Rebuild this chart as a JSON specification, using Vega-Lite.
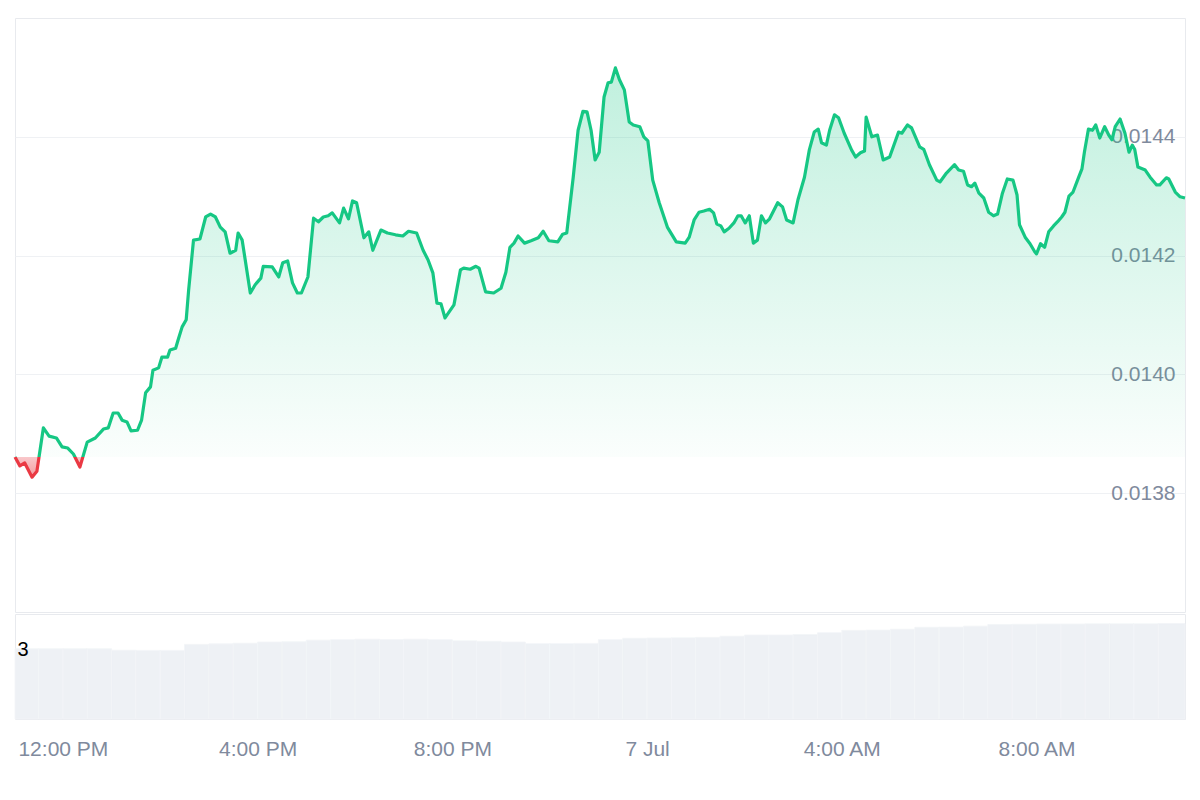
{
  "$schema": "https://vega.github.io/schema/vega-lite/v6.json",
  "padding": {"left": 12, "top": 17, "right": 0, "bottom": 0},
  "background": "white",
  "config": {
    "font": "Liberation Sans",
    "view": {"stroke": "#e8eaee"}
  },
  "spacing": 0,
  "datasets": {
    "price": [
      {"t":"2024-07-06T11:01","p":0.013861},{"t":"2024-07-06T11:07","p":0.013846},{"t":"2024-07-06T11:13","p":0.013851},{"t":"2024-07-06T11:22","p":0.013827},{"t":"2024-07-06T11:28","p":0.013837},{"t":"2024-07-06T11:36","p":0.013910},{"t":"2024-07-06T11:43","p":0.013896},{"t":"2024-07-06T11:52","p":0.013893},{"t":"2024-07-06T11:59","p":0.013878},{"t":"2024-07-06T12:06","p":0.013876},
      {"t":"2024-07-06T12:13","p":0.013866},{"t":"2024-07-06T12:21","p":0.013844},{"t":"2024-07-06T12:30","p":0.013886},{"t":"2024-07-06T12:40","p":0.013893},{"t":"2024-07-06T12:50","p":0.013908},{"t":"2024-07-06T12:56","p":0.013910},{"t":"2024-07-06T13:02","p":0.013935},{"t":"2024-07-06T13:08","p":0.013935},{"t":"2024-07-06T13:13","p":0.013923},{"t":"2024-07-06T13:19","p":0.013920},
      {"t":"2024-07-06T13:24","p":0.013905},{"t":"2024-07-06T13:32","p":0.013906},{"t":"2024-07-06T13:37","p":0.013923},{"t":"2024-07-06T13:42","p":0.013969},{"t":"2024-07-06T13:48","p":0.013979},{"t":"2024-07-06T13:51","p":0.014007},{"t":"2024-07-06T13:58","p":0.014011},{"t":"2024-07-06T14:02","p":0.014029},{"t":"2024-07-06T14:09","p":0.014029},{"t":"2024-07-06T14:12","p":0.014041},
      {"t":"2024-07-06T14:19","p":0.014044},{"t":"2024-07-06T14:22","p":0.014058},{"t":"2024-07-06T14:27","p":0.014080},{"t":"2024-07-06T14:32","p":0.014092},{"t":"2024-07-06T14:35","p":0.014142},{"t":"2024-07-06T14:41","p":0.014226},{"t":"2024-07-06T14:49","p":0.014228},{"t":"2024-07-06T14:56","p":0.014265},{"t":"2024-07-06T15:02","p":0.014270},{"t":"2024-07-06T15:08","p":0.014265},
      {"t":"2024-07-06T15:14","p":0.014248},{"t":"2024-07-06T15:20","p":0.014240},{"t":"2024-07-06T15:26","p":0.014204},{"t":"2024-07-06T15:33","p":0.014209},{"t":"2024-07-06T15:36","p":0.014238},{"t":"2024-07-06T15:41","p":0.014226},{"t":"2024-07-06T15:51","p":0.014137},{"t":"2024-07-06T15:57","p":0.014151},{"t":"2024-07-06T16:04","p":0.014162},{"t":"2024-07-06T16:07","p":0.014182},
      {"t":"2024-07-06T16:18","p":0.014181},{"t":"2024-07-06T16:26","p":0.014164},{"t":"2024-07-06T16:31","p":0.014188},{"t":"2024-07-06T16:37","p":0.014191},{"t":"2024-07-06T16:43","p":0.014154},{"t":"2024-07-06T16:49","p":0.014137},{"t":"2024-07-06T16:54","p":0.014137},{"t":"2024-07-06T17:02","p":0.014164},{"t":"2024-07-06T17:09","p":0.014263},{"t":"2024-07-06T17:15","p":0.014257},
      {"t":"2024-07-06T17:21","p":0.014265},{"t":"2024-07-06T17:27","p":0.014267},{"t":"2024-07-06T17:32","p":0.014272},{"t":"2024-07-06T17:41","p":0.014255},{"t":"2024-07-06T17:46","p":0.014280},{"t":"2024-07-06T17:52","p":0.014262},{"t":"2024-07-06T17:57","p":0.014292},{"t":"2024-07-06T18:02","p":0.014289},{"t":"2024-07-06T18:11","p":0.014230},{"t":"2024-07-06T18:17","p":0.014240},
      {"t":"2024-07-06T18:22","p":0.014209},{"t":"2024-07-06T18:32","p":0.014243},{"t":"2024-07-06T18:40","p":0.014238},{"t":"2024-07-06T18:50","p":0.014235},{"t":"2024-07-06T18:59","p":0.014233},{"t":"2024-07-06T19:06","p":0.014241},{"t":"2024-07-06T19:16","p":0.014238},{"t":"2024-07-06T19:24","p":0.014209},{"t":"2024-07-06T19:30","p":0.014193},{"t":"2024-07-06T19:36","p":0.014171},
      {"t":"2024-07-06T19:41","p":0.014120},{"t":"2024-07-06T19:46","p":0.014119},{"t":"2024-07-06T19:51","p":0.014095},{"t":"2024-07-06T20:02","p":0.014117},{"t":"2024-07-06T20:10","p":0.014176},{"t":"2024-07-06T20:14","p":0.014179},{"t":"2024-07-06T20:22","p":0.014177},{"t":"2024-07-06T20:29","p":0.014182},{"t":"2024-07-06T20:33","p":0.014179},{"t":"2024-07-06T20:41","p":0.014139},
      {"t":"2024-07-06T20:51","p":0.014137},{"t":"2024-07-06T21:00","p":0.014145},{"t":"2024-07-06T21:06","p":0.014172},{"t":"2024-07-06T21:11","p":0.014214},{"t":"2024-07-06T21:16","p":0.014221},{"t":"2024-07-06T21:21","p":0.014233},{"t":"2024-07-06T21:29","p":0.014221},{"t":"2024-07-06T21:37","p":0.014225},{"t":"2024-07-06T21:46","p":0.014230},{"t":"2024-07-06T21:52","p":0.014241},
      {"t":"2024-07-06T21:59","p":0.014225},{"t":"2024-07-06T22:10","p":0.014223},{"t":"2024-07-06T22:16","p":0.014236},{"t":"2024-07-06T22:21","p":0.014238},{"t":"2024-07-06T22:29","p":0.014332},{"t":"2024-07-06T22:35","p":0.014411},{"t":"2024-07-06T22:41","p":0.014443},{"t":"2024-07-06T22:46","p":0.014442},{"t":"2024-07-06T22:51","p":0.014411},{"t":"2024-07-06T22:56","p":0.014361},
      {"t":"2024-07-06T23:01","p":0.014374},{"t":"2024-07-06T23:07","p":0.014467},{"t":"2024-07-06T23:12","p":0.014491},{"t":"2024-07-06T23:16","p":0.014492},{"t":"2024-07-06T23:21","p":0.014516},{"t":"2024-07-06T23:26","p":0.014496},{"t":"2024-07-06T23:32","p":0.014479},{"t":"2024-07-06T23:38","p":0.014425},{"t":"2024-07-06T23:43","p":0.014420},{"t":"2024-07-06T23:51","p":0.014417},
      {"t":"2024-07-06T23:56","p":0.014400},{"t":"2024-07-07T00:01","p":0.014393},{"t":"2024-07-07T00:07","p":0.014327},{"t":"2024-07-07T00:15","p":0.014289},{"t":"2024-07-07T00:25","p":0.014248},{"t":"2024-07-07T00:36","p":0.014223},{"t":"2024-07-07T00:47","p":0.014221},{"t":"2024-07-07T00:52","p":0.014231},{"t":"2024-07-07T00:58","p":0.014260},{"t":"2024-07-07T01:04","p":0.014273},
      {"t":"2024-07-07T01:10","p":0.014275},{"t":"2024-07-07T01:17","p":0.014278},{"t":"2024-07-07T01:22","p":0.014272},{"t":"2024-07-07T01:26","p":0.014253},{"t":"2024-07-07T01:31","p":0.014250},{"t":"2024-07-07T01:35","p":0.014240},{"t":"2024-07-07T01:41","p":0.014246},{"t":"2024-07-07T01:47","p":0.014255},{"t":"2024-07-07T01:52","p":0.014267},{"t":"2024-07-07T01:56","p":0.014267},
      {"t":"2024-07-07T02:01","p":0.014255},{"t":"2024-07-07T02:06","p":0.014267},{"t":"2024-07-07T02:11","p":0.014221},{"t":"2024-07-07T02:16","p":0.014226},{"t":"2024-07-07T02:21","p":0.014267},{"t":"2024-07-07T02:26","p":0.014255},{"t":"2024-07-07T02:31","p":0.014262},{"t":"2024-07-07T02:41","p":0.014289},{"t":"2024-07-07T02:47","p":0.014282},{"t":"2024-07-07T02:52","p":0.014260},
      {"t":"2024-07-07T03:00","p":0.014255},{"t":"2024-07-07T03:06","p":0.014294},{"t":"2024-07-07T03:14","p":0.014332},{"t":"2024-07-07T03:20","p":0.014378},{"t":"2024-07-07T03:26","p":0.014408},{"t":"2024-07-07T03:31","p":0.014413},{"t":"2024-07-07T03:35","p":0.014390},{"t":"2024-07-07T03:41","p":0.014386},{"t":"2024-07-07T03:45","p":0.014411},{"t":"2024-07-07T03:51","p":0.014437},
      {"t":"2024-07-07T03:56","p":0.014432},{"t":"2024-07-07T04:03","p":0.014406},{"t":"2024-07-07T04:12","p":0.014378},{"t":"2024-07-07T04:17","p":0.014366},{"t":"2024-07-07T04:23","p":0.014373},{"t":"2024-07-07T04:28","p":0.014376},{"t":"2024-07-07T04:30","p":0.014433},{"t":"2024-07-07T04:37","p":0.014400},{"t":"2024-07-07T04:44","p":0.014403},{"t":"2024-07-07T04:51","p":0.014361},
      {"t":"2024-07-07T04:59","p":0.014366},{"t":"2024-07-07T05:10","p":0.014408},{"t":"2024-07-07T05:14","p":0.014406},{"t":"2024-07-07T05:21","p":0.014420},{"t":"2024-07-07T05:26","p":0.014415},{"t":"2024-07-07T05:36","p":0.014383},{"t":"2024-07-07T05:41","p":0.014379},{"t":"2024-07-07T05:48","p":0.014353},{"t":"2024-07-07T05:57","p":0.014327},{"t":"2024-07-07T06:01","p":0.014324},
      {"t":"2024-07-07T06:09","p":0.014339},{"t":"2024-07-07T06:19","p":0.014353},{"t":"2024-07-07T06:24","p":0.014344},{"t":"2024-07-07T06:30","p":0.014342},{"t":"2024-07-07T06:35","p":0.014319},{"t":"2024-07-07T06:40","p":0.014316},{"t":"2024-07-07T06:44","p":0.014322},{"t":"2024-07-07T06:49","p":0.014305},{"t":"2024-07-07T06:55","p":0.014297},{"t":"2024-07-07T07:01","p":0.014273},
      {"t":"2024-07-07T07:07","p":0.014267},{"t":"2024-07-07T07:12","p":0.014270},{"t":"2024-07-07T07:18","p":0.014305},{"t":"2024-07-07T07:24","p":0.014329},{"t":"2024-07-07T07:31","p":0.014327},{"t":"2024-07-07T07:36","p":0.014302},{"t":"2024-07-07T07:39","p":0.014252},{"t":"2024-07-07T07:46","p":0.014231},{"t":"2024-07-07T07:52","p":0.014220},{"t":"2024-07-07T07:58","p":0.014206},
      {"t":"2024-07-07T08:00","p":0.014203},{"t":"2024-07-07T08:05","p":0.014220},{"t":"2024-07-07T08:10","p":0.014214},{"t":"2024-07-07T08:15","p":0.014240},{"t":"2024-07-07T08:21","p":0.014250},{"t":"2024-07-07T08:26","p":0.014257},{"t":"2024-07-07T08:31","p":0.014265},{"t":"2024-07-07T08:35","p":0.014273},{"t":"2024-07-07T08:40","p":0.014300},{"t":"2024-07-07T08:45","p":0.014307},
      {"t":"2024-07-07T08:52","p":0.014332},{"t":"2024-07-07T08:56","p":0.014346},{"t":"2024-07-07T08:59","p":0.014374},{"t":"2024-07-07T09:04","p":0.014413},{"t":"2024-07-07T09:09","p":0.014411},{"t":"2024-07-07T09:13","p":0.014420},{"t":"2024-07-07T09:18","p":0.014398},{"t":"2024-07-07T09:24","p":0.014417},{"t":"2024-07-07T09:29","p":0.014403},{"t":"2024-07-07T09:33","p":0.014395},
      {"t":"2024-07-07T09:37","p":0.014417},{"t":"2024-07-07T09:43","p":0.014430},{"t":"2024-07-07T09:49","p":0.014406},{"t":"2024-07-07T09:54","p":0.014374},{"t":"2024-07-07T09:58","p":0.014386},{"t":"2024-07-07T10:01","p":0.014379},{"t":"2024-07-07T10:05","p":0.014349},{"t":"2024-07-07T10:14","p":0.014344},{"t":"2024-07-07T10:20","p":0.014332},{"t":"2024-07-07T10:28","p":0.014319},
      {"t":"2024-07-07T10:32","p":0.014319},{"t":"2024-07-07T10:40","p":0.014331},{"t":"2024-07-07T10:43","p":0.014329},{"t":"2024-07-07T10:51","p":0.014307},{"t":"2024-07-07T10:57","p":0.014299},{"t":"2024-07-07T11:03","p":0.014297}
    ],
    "vol": [
      {"t0":"2024-07-06T11:01","t1":"2024-07-06T11:30","v":3.01},{"t0":"2024-07-06T11:30","t1":"2024-07-06T12:00","v":3.01},{"t0":"2024-07-06T12:00","t1":"2024-07-06T12:30","v":3.01},{"t0":"2024-07-06T12:30","t1":"2024-07-06T13:00","v":3.01},
      {"t0":"2024-07-06T13:00","t1":"2024-07-06T13:30","v":2.95},{"t0":"2024-07-06T13:30","t1":"2024-07-06T14:00","v":2.94},{"t0":"2024-07-06T14:00","t1":"2024-07-06T14:30","v":2.94},{"t0":"2024-07-06T14:30","t1":"2024-07-06T15:00","v":3.20},
      {"t0":"2024-07-06T15:00","t1":"2024-07-06T15:30","v":3.22},{"t0":"2024-07-06T15:30","t1":"2024-07-06T16:00","v":3.25},{"t0":"2024-07-06T16:00","t1":"2024-07-06T16:30","v":3.30},{"t0":"2024-07-06T16:30","t1":"2024-07-06T17:00","v":3.31},
      {"t0":"2024-07-06T17:00","t1":"2024-07-06T17:30","v":3.38},{"t0":"2024-07-06T17:30","t1":"2024-07-06T18:00","v":3.40},{"t0":"2024-07-06T18:00","t1":"2024-07-06T18:30","v":3.42},{"t0":"2024-07-06T18:30","t1":"2024-07-06T19:00","v":3.41},
      {"t0":"2024-07-06T19:00","t1":"2024-07-06T19:30","v":3.42},{"t0":"2024-07-06T19:30","t1":"2024-07-06T20:00","v":3.40},{"t0":"2024-07-06T20:00","t1":"2024-07-06T20:30","v":3.35},{"t0":"2024-07-06T20:30","t1":"2024-07-06T21:00","v":3.33},
      {"t0":"2024-07-06T21:00","t1":"2024-07-06T21:30","v":3.30},{"t0":"2024-07-06T21:30","t1":"2024-07-06T22:00","v":3.23},{"t0":"2024-07-06T22:00","t1":"2024-07-06T22:30","v":3.23},{"t0":"2024-07-06T22:30","t1":"2024-07-06T23:00","v":3.24},
      {"t0":"2024-07-06T23:00","t1":"2024-07-06T23:30","v":3.40},{"t0":"2024-07-06T23:30","t1":"2024-07-07T00:00","v":3.46},{"t0":"2024-07-07T00:00","t1":"2024-07-07T00:30","v":3.47},{"t0":"2024-07-07T00:30","t1":"2024-07-07T01:00","v":3.48},
      {"t0":"2024-07-07T01:00","t1":"2024-07-07T01:30","v":3.50},{"t0":"2024-07-07T01:30","t1":"2024-07-07T02:00","v":3.55},{"t0":"2024-07-07T02:00","t1":"2024-07-07T02:30","v":3.60},{"t0":"2024-07-07T02:30","t1":"2024-07-07T03:00","v":3.60},
      {"t0":"2024-07-07T03:00","t1":"2024-07-07T03:30","v":3.62},{"t0":"2024-07-07T03:30","t1":"2024-07-07T04:00","v":3.70},{"t0":"2024-07-07T04:00","t1":"2024-07-07T04:30","v":3.80},{"t0":"2024-07-07T04:30","t1":"2024-07-07T05:00","v":3.81},
      {"t0":"2024-07-07T05:00","t1":"2024-07-07T05:30","v":3.85},{"t0":"2024-07-07T05:30","t1":"2024-07-07T06:00","v":3.93},{"t0":"2024-07-07T06:00","t1":"2024-07-07T06:30","v":3.94},{"t0":"2024-07-07T06:30","t1":"2024-07-07T07:00","v":3.98},
      {"t0":"2024-07-07T07:00","t1":"2024-07-07T07:30","v":4.05},{"t0":"2024-07-07T07:30","t1":"2024-07-07T08:00","v":4.06},{"t0":"2024-07-07T08:00","t1":"2024-07-07T08:30","v":4.07},{"t0":"2024-07-07T08:30","t1":"2024-07-07T09:00","v":4.07},
      {"t0":"2024-07-07T09:00","t1":"2024-07-07T09:30","v":4.08},{"t0":"2024-07-07T09:30","t1":"2024-07-07T10:00","v":4.08},{"t0":"2024-07-07T10:00","t1":"2024-07-07T10:30","v":4.08},{"t0":"2024-07-07T10:30","t1":"2024-07-07T11:03","v":4.09}
    ]
  },
  "vconcat": [
    {
      "width": 1170,
      "height": 594,
      "data": {"name": "price"},
      "encoding": {
        "x": {"field": "t", "type": "temporal", "axis": null, "scale": {"nice": false}}
      },
      "layer": [
        {
          "mark": {
            "type": "area",
            "fill": {
              "gradient": "linear", "x1": 0, "y1": 0, "x2": 0, "y2": 1,
              "stops": [
                {"offset": 0, "color": "rgba(22,199,132,0.27)"},
                {"offset": 0.9507, "color": "rgba(22,199,132,0.02)"},
                {"offset": 0.9507, "color": "rgba(234,57,67,0.28)"},
                {"offset": 1, "color": "rgba(234,57,67,0.5)"}
              ]
            }
          },
          "encoding": {
            "y": {
              "field": "p", "type": "quantitative",
              "scale": {"domain": [0.0136, 0.0146], "nice": false, "zero": false},
              "axis": {
                "orient": "right",
                "values": [0.0138, 0.014, 0.0142, 0.0144],
                "format": ".4f",
                "title": null,
                "grid": true,
                "gridColor": "#eff1f4",
                "domain": false,
                "ticks": false,
                "tickSize": 0,
                "labelAlign": "right",
                "labelBaseline": "middle",
                "labelPadding": -10,
                "labelFontSize": 21,
                "labelColor": "#808a9d",
                "minExtent": 0
              }
            },
            "y2": {"datum": 0.013861}
          }
        },
        {
          "data": {"values": [{"ref": 0.013861}]},
          "mark": {"type": "rule", "strokeDash": [2, 6], "color": "#58667e", "strokeWidth": 1.6},
          "encoding": {"y": {"field": "ref", "type": "quantitative"}}
        },
        {
          "mark": {
            "type": "line",
            "strokeWidth": 3.2,
            "strokeJoin": "round",
            "stroke": {
              "gradient": "linear", "x1": 0, "y1": 0, "x2": 0, "y2": 1,
              "stops": [
                {"offset": 0, "color": "#16c784"},
                {"offset": 0.9507, "color": "#16c784"},
                {"offset": 0.9507, "color": "#ea3943"},
                {"offset": 1, "color": "#ea3943"}
              ]
            }
          },
          "encoding": {"y": {"field": "p", "type": "quantitative"}}
        }
      ]
    },
    {
      "width": 1170,
      "height": 105,
      "data": {"name": "vol"},
      "mark": {"type": "bar", "color": "#eef1f5", "stroke": "#f3f5f8", "strokeWidth": 0.8},
      "encoding": {
        "x": {
          "field": "t0", "type": "temporal",
          "scale": {"nice": false},
          "axis": {
            "title": null,
            "grid": false,
            "domain": false,
            "ticks": false,
            "tickSize": 0,
            "tickCount": 24,
            "labelExpr": "(hours(datum.value) % 4 != 0 || minutes(datum.value) != 0) ? '' : hours(datum.value) == 0 ? timeFormat(datum.value, '%-d %b') : timeFormat(datum.value, '%-I:%M %p')",
            "labelFontSize": 21,
            "labelColor": "#808a9d",
            "labelPadding": 19,
            "labelOverlap": false,
            "labelFlush": false
          }
        },
        "x2": {"field": "t1"},
        "y": {
          "field": "v", "type": "quantitative",
          "scale": {"domain": [0, 4.5], "nice": false},
          "axis": {
            "orient": "left",
            "values": [3],
            "title": null,
            "grid": false,
            "domain": false,
            "ticks": false,
            "tickSize": 0,
            "labelAlign": "left",
            "labelBaseline": "middle",
            "labelPadding": -2,
            "labelFontSize": 20,
            "labelColor": "#000000",
            "minExtent": 0,
            "zindex": 2
          }
        },
        "y2": {"datum": 0}
      }
    }
  ]
}
